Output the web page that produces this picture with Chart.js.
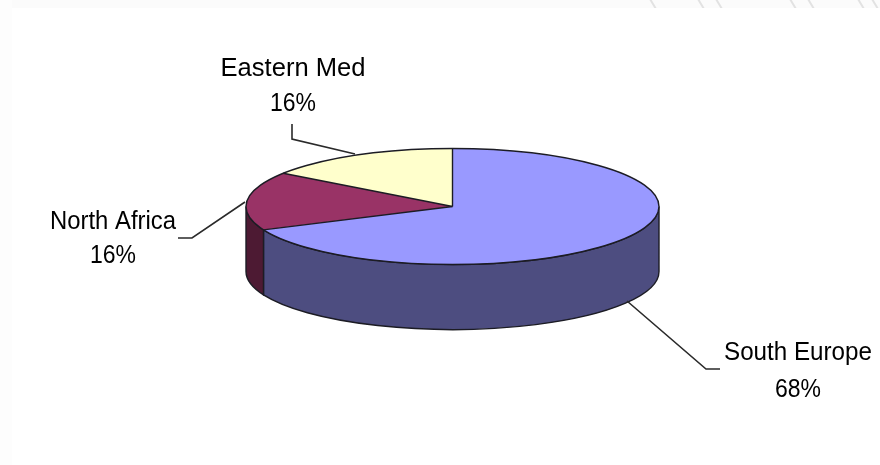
<!DOCTYPE html>
<html>
<head>
<meta charset="utf-8">
<title>Pie</title>
<script src="https://cdn.jsdelivr.net/npm/chart.js@4/dist/chart.umd.min.js"></script>
<style>
    html, body { margin: 0; padding: 0; background: #fff; }
    #wrap { width: 880px; height: 465px; }
</style>
</head>
<body>
<div id="wrap"><canvas id="pie" width="880" height="465"></canvas></div>
<script>
const categories = ["South Europe", "North Africa", "Eastern Med"];
const shares = [68.4, 16.3, 15.3];
const shareLabels = ["68%", "16%", "16%"];
const topColors = ["#9999ff", "#993366", "#ffffcc"];
const sideColors = ["#4d4d80", "#4d1a33", "#808066"];

const CX = 452.5;
const CY = 206.5;
const RX = 206.5;
const RY = 58;
const DEPTH = 65;
const OUTLINE = "#1c1c24";
const FONT = '26px "Liberation Sans", Arial, sans-serif';
const SHARE_WIDTH = 46;

// label text anchors and leader lines, one per category
const labelSpots = [
    { x: 798, y1: 360, y2: 397, width: 148, leader: [[720, 369], [706, 369], [627, 301]] },
    { x: 113, y1: 229, y2: 263, width: 126, leader: [[178, 238], [192, 238], [245, 202]] },
    { x: 293, y1: 76, y2: 111, width: 145, leader: [[292, 124], [292, 139], [355, 154]] },
];

function ellipseSpan(ctx, cy, from, to, back) {
    ctx.ellipse(CX, cy, RX, RY, 0, from, to, back);
}

const pie3d = {
    id: "pie3d",
    beforeDraw(chart) {
        const ctx = chart.ctx;
        ctx.save();
        // faint page strip the chart was cropped from
        ctx.fillStyle = "#fbfbfb";
        ctx.fillRect(0, 0, 880, 8);
        ctx.fillStyle = "#fdfdfd";
        ctx.fillRect(0, 0, 12, 465);
        ctx.beginPath();
        ctx.rect(640, 0, 240, 8);
        ctx.clip();
        ctx.strokeStyle = "#e2e2e2";
        ctx.lineWidth = 2;
        [650, 698, 716, 790, 808, 858, 872].forEach((x) => {
            ctx.beginPath();
            ctx.moveTo(x, -1);
            ctx.lineTo(x + 6, 9);
            ctx.stroke();
        });
        ctx.restore();
    },
    beforeDatasetsDraw(chart) {
        const ctx = chart.ctx;
        const arcs = chart.getDatasetMeta(0).data;

        // side wall, only the part of each slice facing the viewer
        arcs.forEach((arc, i) => {
            const from = Math.max(arc.startAngle, 0);
            const to = Math.min(arc.endAngle, Math.PI);
            if (to <= from) return;
            ctx.beginPath();
            ellipseSpan(ctx, CY, from, to, false);
            ellipseSpan(ctx, CY + DEPTH, to, from, true);
            ctx.closePath();
            ctx.fillStyle = sideColors[i];
            ctx.fill();
            ctx.strokeStyle = OUTLINE;
            ctx.lineWidth = 1.4;
            ctx.stroke();
        });

        // squash the library's flat pie into the top face
        const first = arcs[0];
        ctx.save();
        ctx.translate(CX, CY);
        ctx.scale(1, RY / RX);
        ctx.translate(-first.x, -first.y);
    },
    afterDatasetsDraw(chart) {
        const ctx = chart.ctx;
        const arcs = chart.getDatasetMeta(0).data;
        ctx.restore();

        ctx.strokeStyle = OUTLINE;
        ctx.lineWidth = 1.4;
        ctx.beginPath();
        ctx.ellipse(CX, CY, RX, RY, 0, 0, Math.PI * 2);
        ctx.stroke();
        arcs.forEach((arc) => {
            ctx.beginPath();
            ctx.moveTo(CX, CY);
            ctx.lineTo(CX + RX * Math.cos(arc.startAngle), CY + RY * Math.sin(arc.startAngle));
            ctx.stroke();
        });

        ctx.fillStyle = "#000";
        ctx.font = FONT;
        ctx.textAlign = "center";
        categories.forEach((name, i) => {
            const spot = labelSpots[i];
            ctx.fillText(name, spot.x, spot.y1, spot.width);
            ctx.fillText(shareLabels[i], spot.x, spot.y2, SHARE_WIDTH);

            ctx.strokeStyle = "#2a2a2a";
            ctx.lineWidth = 1.6;
            ctx.beginPath();
            spot.leader.forEach((p, n) => {
                if (n === 0) ctx.moveTo(p[0], p[1]);
                else ctx.lineTo(p[0], p[1]);
            });
            ctx.stroke();
        });
    },
};

new Chart(document.getElementById("pie"), {
    type: "pie",
    data: {
        labels: categories,
        datasets: [
            {
                data: shares,
                backgroundColor: topColors,
                borderWidth: 0,
            },
        ],
    },
    options: {
        responsive: false,
        animation: false,
        radius: RX,
        layout: { padding: { top: 26, bottom: 26, left: 25 } },
        plugins: {
            legend: { display: false },
            tooltip: { enabled: false },
        },
    },
    plugins: [pie3d],
});
</script>
</body>
</html>
